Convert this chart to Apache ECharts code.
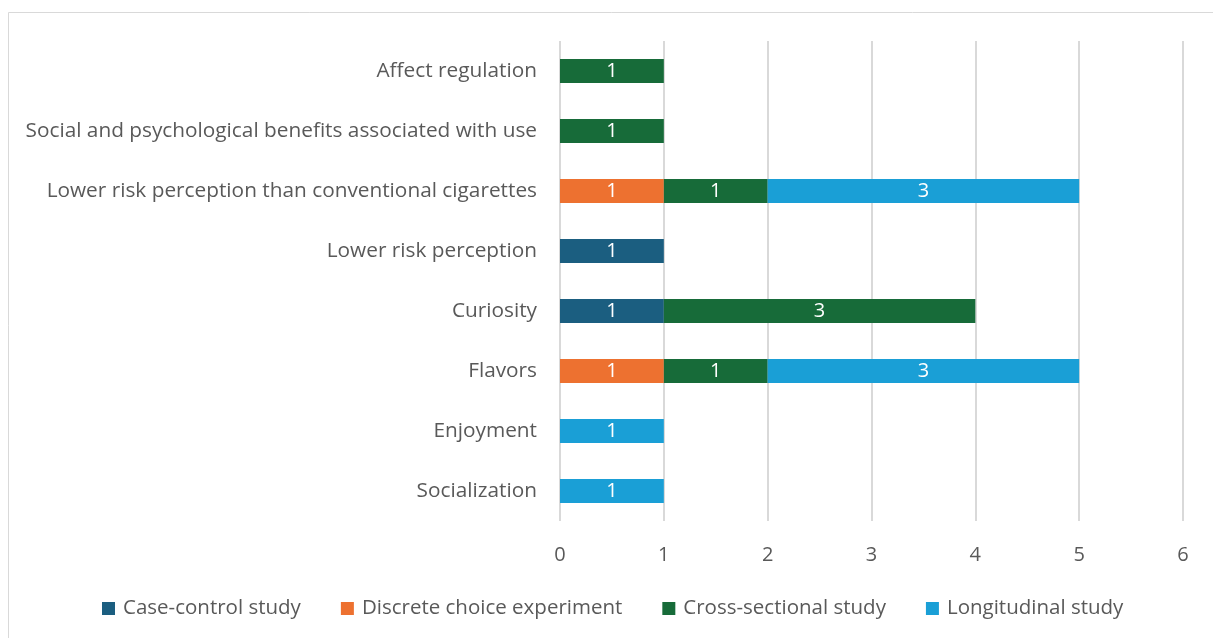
<!DOCTYPE html>
<html>
<head>
<meta charset="utf-8">
<script src="https://cdn.jsdelivr.net/npm/echarts@6/dist/echarts.min.js"></script>
<style>
  html, body { margin: 0; padding: 0; background: #fff; }
  #chart { width: 1213px; height: 638px; }
</style>
</head>
<body>
<div id="chart"></div>
<script>
// categories listed bottom to top (category axis on y)
const categories = [
    'Socialization',
    'Enjoyment',
    'Flavors',
    'Curiosity',
    'Lower risk perception',
    'Lower risk perception than conventional cigarettes',
    'Social and psychological benefits associated with use',
    'Affect regulation'
];

const caseControl = [null, null, null, 1, 1, null, null, null];
const discreteChoice = [null, null, 1, null, null, 1, null, null];
const crossSectional = [null, null, 1, 3, null, 1, 1, 1];
const longitudinal = [1, 1, 3, null, null, 3, null, null];

const xTicks = [0, 1, 2, 3, 4, 5, 6];

const FONT = '"Open Sans", sans-serif';
const TEXT_GRAY = '#595959';

function barSeries(name, data, color) {
    return {
        name: name,
        type: 'bar',
        stack: 'total',
        barWidth: '40%',
        data: data,
        itemStyle: { color: color },
        label: {
            show: true,
            position: 'inside',
            color: '#fff',
            fontFamily: FONT,
            fontSize: 20
        }
    };
}

const chart = echarts.init(document.getElementById('chart'));
chart.setOption({
    backgroundColor: '#fff',
    animation: false,
    graphic: [{
        type: 'rect',
        shape: { x: 8.5, y: 12.5, width: 1220, height: 640 },
        style: { fill: 'none', stroke: '#d9d9d9', lineWidth: 1 },
        silent: true
    }],
    grid: {
        left: 560,
        right: 30,
        top: 41,
        bottom: 117
    },
    legend: {
        bottom: 14,
        left: 97,
        itemWidth: 13,
        itemHeight: 13,
        itemGap: 40,
        icon: 'rect',
        textStyle: { color: TEXT_GRAY, fontFamily: FONT, fontSize: 20.5, padding: [0, 0, 0, 3] },
        data: ['Case-control study', 'Discrete choice experiment', 'Cross-sectional study', 'Longitudinal study']
    },
    xAxis: {
        type: 'value',
        min: xTicks[0],
        max: xTicks[xTicks.length - 1],
        interval: 1,
        axisLine: { show: false },
        axisTick: { show: false },
        splitLine: { lineStyle: { color: '#d9d9d9', width: 2 } },
        axisLabel: { color: TEXT_GRAY, fontFamily: FONT, fontSize: 20, margin: 24 }
    },
    yAxis: {
        type: 'category',
        data: categories,
        axisLine: { show: false },
        axisTick: { show: false },
        axisLabel: { color: TEXT_GRAY, fontFamily: FONT, fontSize: 20.8, margin: 23 }
    },
    series: [
        barSeries('Case-control study', caseControl, '#1b5e80'),
        barSeries('Discrete choice experiment', discreteChoice, '#ed7130'),
        barSeries('Cross-sectional study', crossSectional, '#176b39'),
        barSeries('Longitudinal study', longitudinal, '#1a9fd6')
    ]
});
</script>
</body>
</html>
